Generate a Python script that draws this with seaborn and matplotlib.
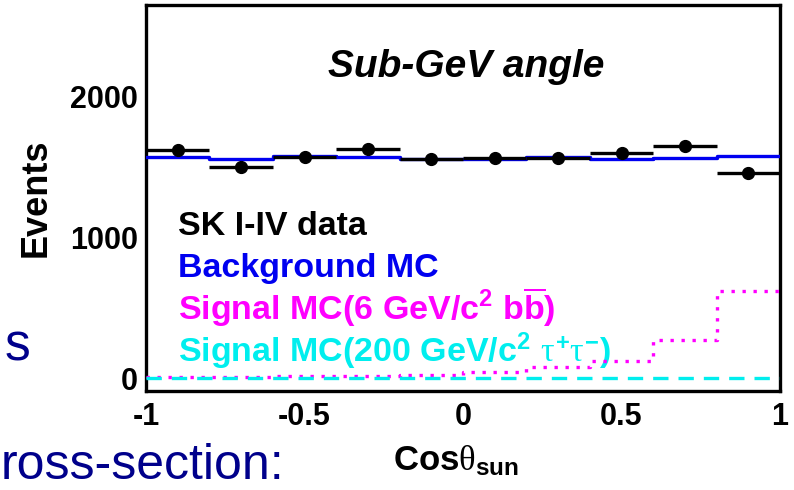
import numpy as np
import pandas as pd
import matplotlib
matplotlib.use("Agg")
import matplotlib.pyplot as plt
import seaborn as sns

# Binning in cos(theta_sun)
bin_edges = [-1.0, -0.8, -0.6, -0.4, -0.2, 0.0, 0.2, 0.4, 0.6, 0.8, 1.0]

# Observed events (SK I-IV, sub-GeV)
data_events = [1618, 1496, 1571, 1630, 1555, 1560, 1564, 1595, 1649, 1458]
# Atmospheric background Monte Carlo
background_mc = [1567, 1555, 1578, 1567, 1555, 1555, 1571, 1557, 1564, 1576]
# Signal Monte Carlo, 6 GeV/c^2 WIMP -> b bbar
signal_bb = [15, 16, 18, 20, 30, 47, 87, 130, 276, 622]
# Signal Monte Carlo, 200 GeV/c^2 WIMP -> tau+ tau-
signal_tautau = [7, 7, 7, 7, 7, 7, 7, 7, 8, 8]

x_ticks = [-1, -0.5, 0, 0.5, 1]
x_tick_labels = ["-1", "-0.5", "0", "0.5", "1"]
y_ticks = [0, 1000, 2000]
y_tick_labels = ["0", "1000", "2000"]

sns.set_theme(style="white")
plt.rcParams.update({
    "font.family": ["Liberation Sans", "DejaVu Sans"],
    "font.weight": "bold",
    "text.color": "black",
    "axes.labelcolor": "black",
    "xtick.color": "black",
    "ytick.color": "black",
    "axes.unicode_minus": False,
    "mathtext.fontset": "custom",
    "mathtext.rm": "Liberation Sans:weight=bold",
    "mathtext.bf": "Liberation Sans:weight=bold",
    "mathtext.it": "Liberation Serif:weight=regular",
    "mathtext.default": "rm",
})

W, H = 794, 490
fig = plt.figure(figsize=(W / 100, H / 100), dpi=100)
ax = fig.add_axes([146 / W, 1 - 391 / H, (780 - 146) / W, (391 - 5) / H])

edges = np.asarray(bin_edges)
centers = 0.5 * (edges[:-1] + edges[1:])
half_width = 0.5 * np.diff(edges)

hist = pd.DataFrame({
    "cos": centers,
    "bkg": background_mc,
    "bb": signal_bb,
    "tt": signal_tautau,
})

# Monte Carlo histograms
sns.histplot(data=hist, x="cos", weights="bkg", bins=bin_edges, element="step",
             fill=False, color="#0000f0", linewidth=2.4, ax=ax, zorder=4)
sns.histplot(data=hist, x="cos", weights="bb", bins=bin_edges, element="step",
             fill=False, color="#ff00ff", linewidth=2.4,
             linestyle=(0, (1.0, 2.3)), ax=ax, zorder=4)
sns.histplot(data=hist, x="cos", weights="tt", bins=bin_edges, element="step",
             fill=False, color="#00eeee", linewidth=2.4,
             linestyle=(0, (4.6, 3.0)), ax=ax, zorder=4)

# Data points with bin-width bars
ax.errorbar(centers, data_events, xerr=half_width, fmt="o", color="black",
            ms=8.5, elinewidth=2.4, capsize=0, zorder=5)

ax.set_xlim(-1, 1)
ax.set_ylim(-85, 2645)
ax.set_xticks(x_ticks)
ax.set_xticklabels(x_tick_labels)
ax.set_yticks(y_ticks)
ax.set_yticklabels(y_tick_labels)
ax.tick_params(axis="both", direction="in", length=13, width=2.2,
               labelsize=22, colors="black")
ax.tick_params(axis="x", pad=8)
ax.tick_params(axis="y", pad=6)
for s in ax.spines.values():
    s.set_linewidth(2.4)
    s.set_color("black")
ax.set_xlabel("")
ax.set_ylabel("")

# Axis titles
fig.text(36 / W, 1 - 198 / H, "Events", rotation=90, ha="center", va="center",
         fontsize=26, fontweight="bold")
fig.text(393 / W, 1 - 470 / H, r"Cos$\mathit{\theta}_{sun}$", ha="left",
         va="baseline", fontsize=25, fontweight="bold")

# Panel title
ax.text(0.505, (391 - 77) / 386, "Sub-GeV angle", transform=ax.transAxes,
        ha="center", va="baseline", fontsize=28, fontweight="bold",
        fontstyle="italic")

# Legend entries as coloured text
legend_rows = [
    ("SK I-IV data", "black", 235),
    ("Background MC", "#0000f0", 277),
    (r"Signal MC(6 GeV/$c^{2}$ b$\overline{b}$)", "#ff00ff", 320),
    (r"Signal MC(200 GeV/$c^{2}$ $\mathit{\tau^{+}\tau^{-}}$)", "#00eeee", 362),
]
for label, col, ypix in legend_rows:
    ax.text((178 - 146) / (780 - 146), (391 - ypix) / 386, label,
            transform=ax.transAxes, ha="left", va="baseline", color=col,
            fontsize=24.5, fontweight="bold", zorder=1.5)

# Surrounding slide text
navy = "#00008b"
slide_font = ["Liberation Sans"]
fig.text(5 / W, 1 - 360 / H, "s", ha="left", va="baseline", color=navy,
         fontsize=37, family=slide_font, fontweight="normal")
fig.text(1 / W, 1 - 479 / H, "ross-section:", ha="left", va="baseline",
         color=navy, fontsize=36, family=slide_font, fontweight="normal")

fig.savefig("out.png", dpi=100)
